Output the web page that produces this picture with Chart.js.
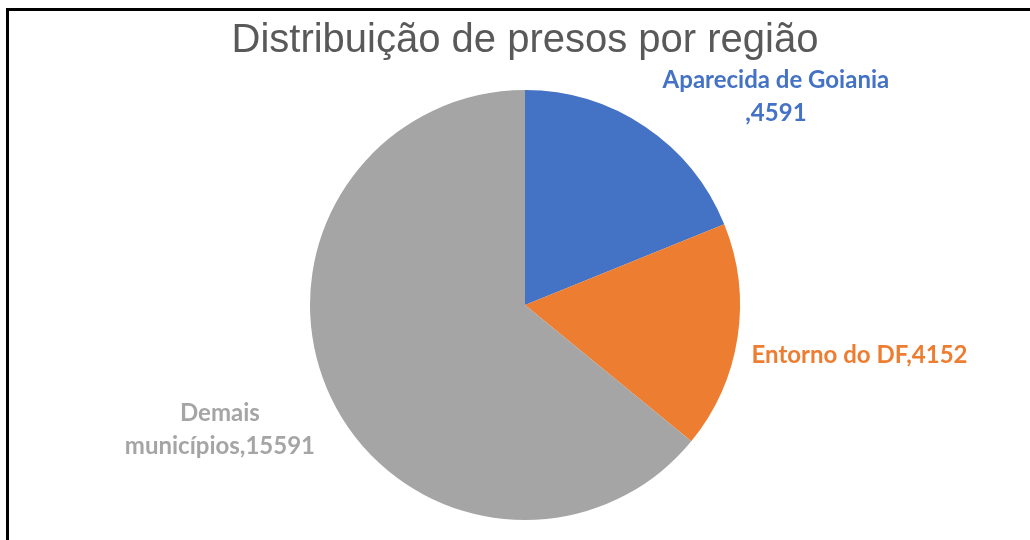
<!DOCTYPE html>
<html>
<head>
<meta charset="utf-8">
<script src="https://cdn.jsdelivr.net/npm/chart.js@4"></script>
<style>
  html, body { margin: 0; padding: 0; background: #fff; }
  #box { position: relative; width: 1030px; height: 540px; }
  #moldura { position: absolute; left: 6px; top: 8px; right: -10px; bottom: -10px;
             border-top: 3px solid #000; border-left: 3px solid #000; pointer-events: none; }
</style>
</head>
<body>
<div id="box">
  <canvas id="grafico"></canvas>
  <div id="moldura"></div>
</div>
<script>
// dados
const regioes = ['Aparecida de Goiania', 'Entorno do DF', 'Demais municípios'];
const presos = [4591, 4152, 15591];
const cores = ['#4472C4', '#ED7D31', '#A5A5A5'];

// quebra de linha dos rótulos, como no Excel
const nomesRotulo = ['Aparecida de Goiania\n', 'Entorno do DF', 'Demais\nmunicípios'];
// posição do centro do rótulo, em raios a partir do centro da pizza
const posRotulo = [
  { dx: 1.167, dy: -0.967 },
  { dx: 1.556, dy: 0.233 },
  { dx: -1.419, dy: 0.581 }
];

const rotulosPlugin = {
  id: 'rotulos',
  afterDatasetsDraw(chart) {
    const ctx = chart.ctx;
    const meta = chart.getDatasetMeta(0);
    ctx.save();
    ctx.font = 'bold 24px Lato, "Liberation Sans", sans-serif';
    ctx.textAlign = 'center';
    ctx.textBaseline = 'middle';
    const alturaLinha = 33;
    meta.data.forEach((arc, i) => {
      const r = arc.outerRadius;
      const cx = arc.x + posRotulo[i].dx * r;
      const cy = arc.y + posRotulo[i].dy * r;
      const linhas = (nomesRotulo[i] + ',' + presos[i]).split('\n');
      ctx.fillStyle = cores[i];
      linhas.forEach((t, k) => {
        ctx.fillText(t, cx, cy + (k - (linhas.length - 1) / 2) * alturaLinha);
      });
    });
    ctx.restore();
  }
};

new Chart(document.getElementById('grafico'), {
  type: 'pie',
  data: {
    labels: regioes,
    datasets: [{
      data: presos,
      backgroundColor: cores,
      borderWidth: 0
    }]
  },
  options: {
    responsive: true,
    maintainAspectRatio: false,
    animation: false,
    layout: { padding: { left: 120, right: 100, top: 0, bottom: 20 } },
    plugins: {
      legend: { display: false },
      tooltip: { enabled: false },
      title: {
        display: true,
        text: 'Distribuição de presos por região',
        color: '#595959',
        font: { family: '"Liberation Sans", sans-serif', size: 40, weight: 'normal' },
        padding: { top: 17, bottom: 25 }
      }
    }
  },
  plugins: [rotulosPlugin]
});
</script>
</body>
</html>
